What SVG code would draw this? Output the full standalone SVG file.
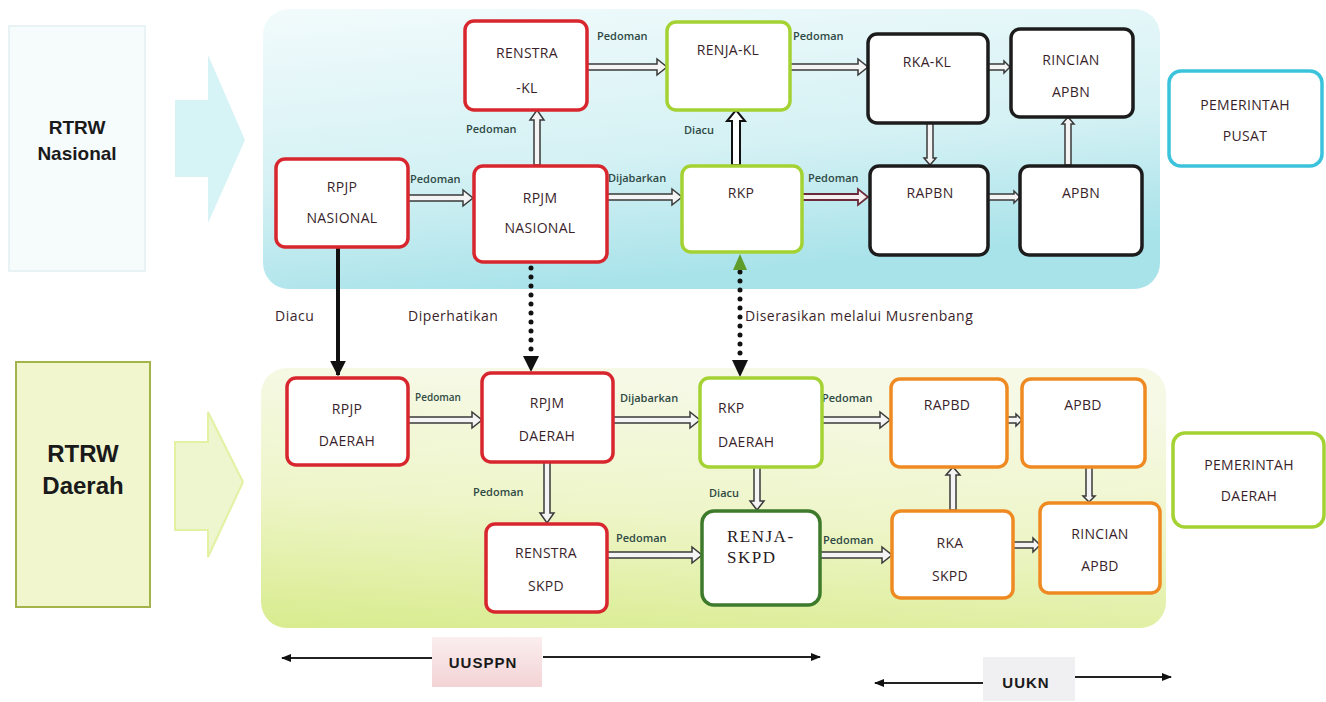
<svg xmlns="http://www.w3.org/2000/svg" width="1326" height="702" viewBox="0 0 1326 702">
<defs>
<linearGradient id="gTop" x1="0" y1="0" x2="0.3" y2="1">
<stop offset="0" stop-color="#f2fbfc"/><stop offset="0.6" stop-color="#d4f1f4"/><stop offset="1" stop-color="#a9e3ea"/>
</linearGradient>
<linearGradient id="gBot" x1="0.2" y1="0" x2="0" y2="1">
<stop offset="0" stop-color="#f6f9e6"/><stop offset="0.5" stop-color="#eef5c8"/><stop offset="1" stop-color="#d8ec8e"/>
</linearGradient>
<linearGradient id="gPink" x1="0" y1="0" x2="0" y2="1">
<stop offset="0" stop-color="#fbeeee"/><stop offset="1" stop-color="#f3d3d5"/>
</linearGradient>
<marker id="mBlack" viewBox="0 0 10 10" refX="9" refY="5" markerWidth="4" markerHeight="4" orient="auto" markerUnits="strokeWidth">
<path d="M0,0 L10,5 L0,10 Z" fill="#111"/>
</marker>
<marker id="mSmall" viewBox="0 0 10 10" refX="9" refY="5" markerWidth="10" markerHeight="10" orient="auto" markerUnits="userSpaceOnUse">
<path d="M0,1 L10,5 L0,9 Z" fill="#111"/>
</marker>
<style>
.node{fill:#ffffff;stroke-width:3.5}
.red{stroke:#d8262e}
.lime{stroke:#a4d233}
.blk{stroke:#1c1c1c}
.org{stroke:#ef8a22}
.dgr{stroke:#3e7a2c}
.cyan{stroke:#3cc3dc}
.t{font-family:"Open Sans","Noto Sans",sans-serif;font-size:14px;fill:#3a1f2b;text-anchor:middle;letter-spacing:0.3px}
.ts{font-family:"Liberation Serif",serif;font-size:17px;fill:#2a1a22;letter-spacing:1.5px}
.lbl{font-family:"Open Sans","Noto Sans",sans-serif;font-size:11px;fill:#2f4a45;font-weight:600}
.lbl2{font-family:"Open Sans","Noto Sans",sans-serif;font-size:14px;fill:#3a1f2b;letter-spacing:0.5px}
.big{font-family:"Liberation Sans",Arial,sans-serif;font-size:19px;font-weight:bold;fill:#1a1a1a;text-anchor:middle}
.ha{fill:#f4f4f4;stroke:#3a3a3a;stroke-width:1.5}
.hb{fill:#ffffff;stroke:#111;stroke-width:2}
.hm{fill:#f4f0f0;stroke:#6a2a38;stroke-width:1.8}
.bt{font-family:"Liberation Sans",Arial,sans-serif;font-size:15px;font-weight:bold;fill:#1a1a1a;text-anchor:middle;letter-spacing:1px}
</style>
</defs>
<rect width="1326" height="702" fill="#ffffff"/>

<g id="panels">
<rect x="263" y="9" width="897" height="280" rx="26" fill="url(#gTop)"/>
<rect x="261" y="368" width="905" height="260" rx="26" fill="url(#gBot)"/>
</g>

<g id="rtrw-nasional">
<rect x="9" y="26" width="136" height="245" fill="#f6fbfc" stroke="#e2f0f2" stroke-width="1.5"/>
<text class="big" x="77" y="134">RTRW</text>
<text class="big" x="77" y="160">Nasional</text>
</g>
<g id="rtrw-daerah">
<rect x="16" y="362" width="134" height="245" fill="#f1f6cf" stroke="#a3b44a" stroke-width="2"/>
<text class="big" x="83" y="462" style="font-size:24px">RTRW</text>
<text class="big" x="83" y="494" style="font-size:24px">Daerah</text>
</g>
<g id="big-arrows">
<path d="M175,100 H208 V55 L245,140 L208,223 V177 H175 Z" fill="#d6f3f6"/>
<path d="M175,442 H208 V412 L243,482 L208,557 V530 H175 Z" fill="#eef6cf" stroke="#e3f1a2" stroke-width="2"/>
</g>

<g id="connectors">
<path class="ha" d="M408,195 H463 V190 L473,198 L463,206 V201 H408 Z"/>
<path class="ha" d="M587,64 H657 V59 L667,67 L657,75 V70 H587 Z"/>
<path class="ha" d="M790,64 H858 V59 L868,67 L858,75 V70 H790 Z"/>
<path class="ha" d="M534,165 V120 H530 L537,110 L544,120 H540 V165 Z"/>
<path class="ha" d="M607,194 H672 V189 L682,197 L672,205 V200 H607 Z"/>
<path class="hb" d="M732,165 V121 H727 L736,110 L745,121 H740 V165 Z"/>
<path class="hm" d="M802,194 H858 V189 L868,197 L858,205 V200 H802 Z"/>
<path class="ha" d="M988,64 H1004 V61 L1010,67 L1004,73 V70 H988 Z"/>
<path class="ha" d="M927,123 V158 H924 L930,165 L936,158 H933 V123 Z"/>
<path class="ha" d="M988,194 H1014 V191 L1020,197 L1014,203 V200 H988 Z"/>
<path class="ha" d="M1065,165 V124 H1062 L1068,117 L1074,124 H1071 V165 Z"/>
<line x1="338" y1="247" x2="338" y2="375" stroke="#111" stroke-width="4" marker-end="url(#mBlack)"/>
<line x1="531" y1="268" x2="531" y2="354" stroke="#111" stroke-width="5" stroke-linecap="round" stroke-dasharray="0 9"/>
<path d="M523,356 L539,356 L531,372 Z" fill="#111"/>
<line x1="740" y1="272" x2="740" y2="358" stroke="#111" stroke-width="5" stroke-linecap="round" stroke-dasharray="0 9"/>
<path d="M732,360 L748,360 L740,377 Z" fill="#111"/>
<path d="M733,270 L747,270 L740,254 Z" fill="#5f9d2a"/>
<path class="ha" d="M408,417 H472 V412 L482,420 L472,428 V423 H408 Z"/>
<path class="ha" d="M613,417 H690 V412 L700,420 L690,428 V423 H613 Z"/>
<path class="ha" d="M822,417 H880 V412 L890,420 L880,428 V423 H822 Z"/>
<path class="ha" d="M544,462 V513 H540 L547,523 L554,513 H550 V462 Z"/>
<path class="ha" d="M754,467 V501 H750 L757,510 L764,501 H760 V467 Z"/>
<path class="ha" d="M607,552 H692 V547 L702,555 L692,563 V558 H607 Z"/>
<path class="ha" d="M820,552 H882 V547 L892,555 L882,563 V558 H820 Z"/>
<path class="ha" d="M1007,417 H1016 V414 L1022,420 L1016,426 V423 H1007 Z"/>
<path class="ha" d="M950,510 V475 H946 L953,467 L960,475 H956 V510 Z"/>
<path class="ha" d="M1086,467 V496 H1083 L1089,502 L1095,496 H1092 V467 Z"/>
<path class="ha" d="M1013,542 H1033 V538 L1040,545 L1033,552 V548 H1013 Z"/>
<line x1="432" y1="658" x2="282" y2="658" stroke="#222" stroke-width="2" marker-end="url(#mSmall)"/>
<line x1="543" y1="657" x2="820" y2="657" stroke="#222" stroke-width="2" marker-end="url(#mSmall)"/>
<line x1="983" y1="683" x2="875" y2="683" stroke="#222" stroke-width="2" marker-end="url(#mSmall)"/>
<line x1="1075" y1="677" x2="1171" y2="677" stroke="#222" stroke-width="2" marker-end="url(#mSmall)"/>
</g>

<g id="connector-labels">
<text class="lbl" x="410" y="183">Pedoman</text>
<text class="lbl" x="597" y="40">Pedoman</text>
<text class="lbl" x="793" y="40">Pedoman</text>
<text class="lbl" x="466" y="133">Pedoman</text>
<text class="lbl" x="608" y="182">Dijabarkan</text>
<text class="lbl" x="684" y="134">Diacu</text>
<text class="lbl" x="808" y="182">Pedoman</text>
<text class="lbl2" x="275" y="321">Diacu</text>
<text class="lbl2" x="408" y="321">Diperhatikan</text>
<text class="lbl2" x="745" y="321">Diserasikan melalui Musrenbang</text>
<text class="lbl" x="415" y="401" style="font-size:10px">Pedoman</text>
<text class="lbl" x="620" y="402">Dijabarkan</text>
<text class="lbl" x="822" y="402">Pedoman</text>
<text class="lbl" x="473" y="496">Pedoman</text>
<text class="lbl" x="709" y="497">Diacu</text>
<text class="lbl" x="616" y="542">Pedoman</text>
<text class="lbl" x="823" y="544">Pedoman</text>
</g>

<g id="rpjp-nasional"><rect class="node red" x="276" y="159" width="132" height="88" rx="9"/><text class="t" x="342" y="192">RPJP</text><text class="t" x="342" y="223">NASIONAL</text></g>
<g id="renstra-kl"><rect class="node red" x="465" y="21" width="122" height="89" rx="9"/><text class="t" x="527" y="58">RENSTRA</text><text class="t" x="527" y="93">-KL</text></g>
<g id="renja-kl"><rect class="node lime" x="667" y="22" width="123" height="88" rx="9"/><text class="t" x="728" y="55">RENJA-KL</text></g>
<g id="rpjm-nasional"><rect class="node red" x="474" y="166" width="133" height="96" rx="9"/><text class="t" x="540" y="203">RPJM</text><text class="t" x="540" y="233">NASIONAL</text></g>
<g id="rkp"><rect class="node lime" x="682" y="166" width="120" height="86" rx="9"/><text class="t" x="741" y="198">RKP</text></g>
<g id="rka-kl"><rect class="node blk" x="868" y="34" width="120" height="89" rx="9"/><text class="t" x="927" y="67">RKA-KL</text></g>
<g id="rincian-apbn"><rect class="node blk" x="1011" y="29" width="122" height="88" rx="9"/><text class="t" x="1071" y="65">RINCIAN</text><text class="t" x="1071" y="97">APBN</text></g>
<g id="rapbn"><rect class="node blk" x="870" y="166" width="118" height="89" rx="9"/><text class="t" x="930" y="198">RAPBN</text></g>
<g id="apbn"><rect class="node blk" x="1020" y="166" width="122" height="89" rx="9"/><text class="t" x="1081" y="198">APBN</text></g>
<g id="pemerintah-pusat"><rect class="node cyan" x="1169" y="71" width="153" height="95" rx="12"/><text class="t" x="1245" y="110">PEMERINTAH</text><text class="t" x="1245" y="141">PUSAT</text></g>

<g id="rpjp-daerah"><rect class="node red" x="287" y="378" width="121" height="87" rx="9"/><text class="t" x="347" y="414">RPJP</text><text class="t" x="347" y="446">DAERAH</text></g>
<g id="rpjm-daerah"><rect class="node red" x="482" y="373" width="131" height="89" rx="9"/><text class="t" x="547" y="408">RPJM</text><text class="t" x="547" y="441">DAERAH</text></g>
<g id="rkp-daerah"><rect class="node lime" x="700" y="378" width="122" height="89" rx="9"/><text class="t" x="718" y="413" style="text-anchor:start">RKP</text><text class="t" x="718" y="447" style="text-anchor:start">DAERAH</text></g>
<g id="renstra-skpd"><rect class="node red" x="486" y="524" width="121" height="88" rx="9"/><text class="t" x="546" y="558">RENSTRA</text><text class="t" x="546" y="591">SKPD</text></g>
<g id="renja-skpd"><rect class="node dgr" x="702" y="511" width="118" height="94" rx="12"/><text class="ts" x="727" y="542">RENJA-</text><text class="ts" x="727" y="563">SKPD</text></g>
<g id="rapbd"><rect class="node org" x="891" y="379" width="116" height="88" rx="9"/><text class="t" x="947" y="410">RAPBD</text></g>
<g id="apbd"><rect class="node org" x="1022" y="379" width="123" height="88" rx="9"/><text class="t" x="1083" y="410">APBD</text></g>
<g id="rka-skpd"><rect class="node org" x="892" y="511" width="121" height="87" rx="9"/><text class="t" x="950" y="548">RKA</text><text class="t" x="950" y="581">SKPD</text></g>
<g id="rincian-apbd"><rect class="node org" x="1040" y="503" width="120" height="90" rx="9"/><text class="t" x="1100" y="539">RINCIAN</text><text class="t" x="1100" y="571">APBD</text></g>
<g id="pemerintah-daerah"><rect class="node lime" x="1173" y="433" width="151" height="94" rx="12"/><text class="t" x="1249" y="470">PEMERINTAH</text><text class="t" x="1249" y="501">DAERAH</text></g>

<g id="uusppn"><rect x="432" y="637" width="110" height="50" fill="url(#gPink)"/><text class="bt" x="483" y="668">UUSPPN</text></g>
<g id="uukn"><rect x="983" y="657" width="92" height="44" fill="#f0f0f2"/><text class="bt" x="1026" y="688">UUKN</text></g>
</svg>
